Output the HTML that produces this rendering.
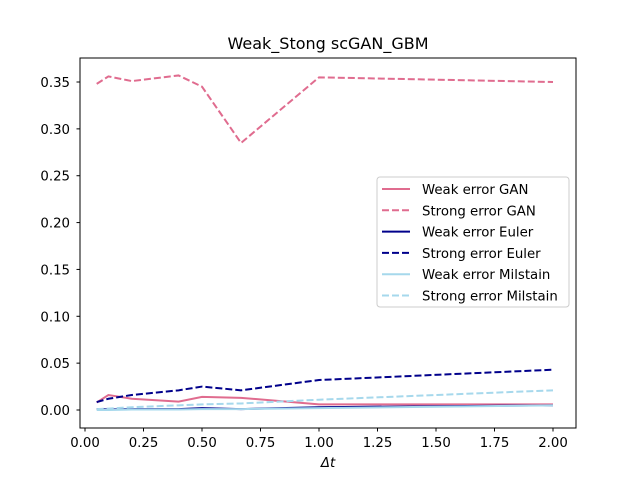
<!DOCTYPE html>
<html><head><meta charset="utf-8"><style>body{margin:0;background:#fff}svg{font-family:"DejaVu Sans","Liberation Sans",sans-serif}</style></head>
<body>
<svg id="chart" width="640" height="480" xmlns="http://www.w3.org/2000/svg">
<rect width="640" height="480" fill="#fff"/>
<text x="328" y="49" font-size="16" text-anchor="middle">Weak_Stong scGAN_GBM</text>
<g id="plot"></g>
<rect x="80" y="58" width="496" height="370" fill="none" stroke="#000" stroke-width="1"/>
<text x="328" y="467" font-size="13.3" text-anchor="middle" font-style="italic">Δt</text>
<g id="legend"></g>
</svg>
<script>
const xs=[0.05,0.1,0.2,0.4,0.5,0.667,1.0,2.0];
const strongGAN=[0.348,0.356,0.351,0.357,0.345,0.285,0.355,0.350];
const weakGAN=[0.008,0.016,0.012,0.009,0.014,0.013,0.006,0.006];
const strongEuler=[0.0085,0.012,0.016,0.021,0.025,0.021,0.032,0.043];
const weakEuler=[0.001,0.0005,0.001,0.001,0.002,0.001,0.003,0.005];
const weakMil=[0.0,0.0,0.0005,0.0005,0.001,0.001,0.002,0.005];
const strongMil=[0.001,0.0015,0.003,0.005,0.006,0.007,0.011,0.021];
const xTicks=[0,0.25,0.5,0.75,1.0,1.25,1.5,1.75,2.0];
const yTicks=[0,0.05,0.1,0.15,0.2,0.25,0.3,0.35];
const X=v=>85+v*234, Y=v=>410-v*937.1;
const NS="http://www.w3.org/2000/svg";
const plot=document.getElementById('plot');
function mk(tag,attrs,parent){const e=document.createElementNS(NS,tag);for(const k in attrs)e.setAttribute(k,attrs[k]);(parent||plot).appendChild(e);return e;}
xTicks.forEach(t=>{
 const l=mk('line',{x1:X(t),x2:X(t),y1:428,y2:431.5,stroke:'#000'});
 
 
 const tx=mk('text',{x:X(t),y:447,'font-size':13.3,'text-anchor':'middle'});tx.textContent=t.toFixed(2);
 
 
});
yTicks.forEach(t=>{
 const l=mk('line',{x1:76.5,x2:80,y1:Y(t),y2:Y(t),stroke:'#000'});
 
 
 const tx=mk('text',{x:70,y:Y(t)+5,'font-size':13.3,'text-anchor':'end'});tx.textContent=t.toFixed(2);
 
 
});
const series=[
 {n:'Weak error GAN',d:weakGAN,c:'#e06c8f',dash:'',id:'weak-gan-line'},
 {n:'Strong error GAN',d:strongGAN,c:'#e06c8f',dash:'7,3',id:'strong-gan-line'},
 {n:'Weak error Euler',d:weakEuler,c:'#00008b',dash:'',id:'weak-euler-line'},
 {n:'Strong error Euler',d:strongEuler,c:'#00008b',dash:'7,3',id:'strong-euler-line'},
 {n:'Weak error Milstain',d:weakMil,c:'#a6d8ec',dash:'',id:'weak-milstain-line'},
 {n:'Strong error Milstain',d:strongMil,c:'#a6d8ec',dash:'7,3',id:'strong-milstain-line'}];
series.forEach(s=>{
 const p=mk('polyline',{points:xs.map((x,i)=>X(x)+','+Y(s.d[i])).join(' '),fill:'none',stroke:s.c,'stroke-width':2,'stroke-dasharray':s.dash});
 
 
});
const lg=document.getElementById('legend');
mk('rect',{x:377,y:177,width:192,height:130,rx:3,fill:'#fff','fill-opacity':0.8,stroke:'#ccc'},lg);
series.forEach((s,i)=>{
 const y=189+i*21.3;
 const l=mk('line',{x1:382,x2:410,y1:y,y2:y,stroke:s.c,'stroke-width':2,'stroke-dasharray':s.dash},lg);
 
 
 const t=mk('text',{x:422,y:y+5,'font-size':13.3},lg);t.textContent=s.n;
 
 
});
</script>
</body></html>
